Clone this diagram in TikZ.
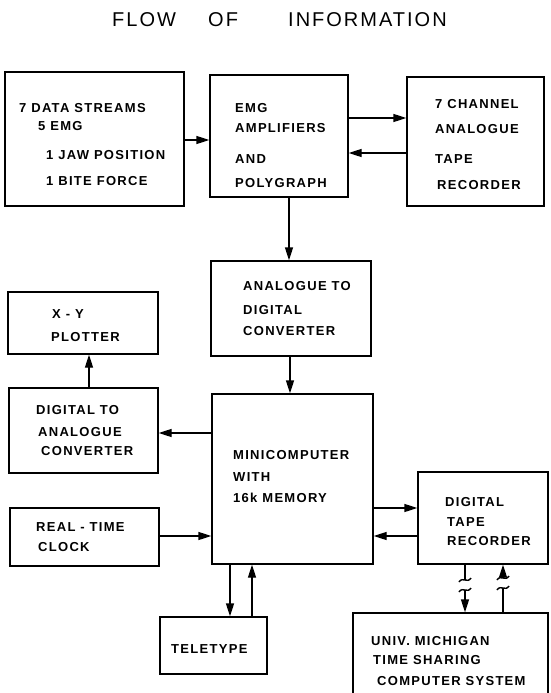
\documentclass[tikz,border=0pt]{standalone}
\usepackage{fontspec}
\setmainfont{Liberation Sans}
\newfontfamily\lblfont{Liberation Sans}[LetterSpace=10,WordSpace=2]
\newfontfamily\ttlfont{Liberation Sans}[LetterSpace=10]
\usetikzlibrary{arrows.meta,calc}
\begin{document}
\begin{tikzpicture}[x=1pt,y=-1pt,
  box/.style={draw,line width=1.3pt,inner sep=0pt},
  lbl/.style={anchor=base west,inner sep=0pt,font=\lblfont\bfseries\fontsize{13}{15}\selectfont},
  ttl/.style={anchor=base west,inner sep=0pt,font=\ttlfont\fontsize{20}{22}\selectfont},
  arr/.style={line width=1.3pt,-{Triangle[length=13pt,width=8pt]}},
  ln/.style={line width=1.3pt},
  brk/.pic={\draw[line width=1.4pt] (-6,2) .. controls (-2,-4) and (2,4) .. (6,-2);}]
\useasboundingbox (0,0) rectangle (551,693);
\clip (0,0) rectangle (551,693);
% title
\node[ttl] (tflow) at (112,27) {FLOW};
\node[ttl] (tof) at (208,27) {OF};
\node[ttl] (tinfo) at (288,27) {INFORMATION};
% boxes
\node[box,minimum width=179pt,minimum height=134pt] (b1) at (94.5,139) {};
\node[box,minimum width=138pt,minimum height=122pt] (b2) at (279,136) {};
\node[box,minimum width=137pt,minimum height=129pt] (b3) at (475.5,141.5) {};
\node[box,minimum width=160pt,minimum height=95pt] (adc) at (291,308.5) {};
\node[box,minimum width=150pt,minimum height=62pt] (xy) at (83,323) {};
\node[box,minimum width=149pt,minimum height=85pt] (dac) at (83.5,430.5) {};
\node[box,minimum width=161pt,minimum height=170pt] (mini) at (292.5,479) {};
\node[box,minimum width=149pt,minimum height=58pt] (clk) at (84.5,537) {};
\node[box,minimum width=130pt,minimum height=92pt] (dtr) at (483,518) {};
\node[box,minimum width=107pt,minimum height=57pt] (tty) at (213.5,645.5) {};
\node[box,minimum width=195pt,minimum height=97pt] (um) at (450.5,661.5) {};
% texts
\node[lbl] (b1a) at (19,112.5) {7 DATA STREAMS};
\node[lbl] (b1b) at (38,130.5) {5 EMG};
\node[lbl] (b1c) at (46,159.5) {1 JAW POSITION};
\node[lbl] (b1d) at (46,185.5) {1 BITE FORCE};
\node[lbl] (b2a) at (235,112.5) {EMG};
\node[lbl] (b2b) at (235,132.5) {AMPLIFIERS};
\node[lbl] (b2c) at (235,163.5) {AND};
\node[lbl] (b2d) at (235,187.5) {POLYGRAPH};
\node[lbl] (b3a) at (435,108.5) {7 CHANNEL};
\node[lbl] (b3b) at (435,133.5) {ANALOGUE};
\node[lbl] (b3c) at (435,163.5) {TAPE};
\node[lbl] (b3d) at (437,189.5) {RECORDER};
\node[lbl] (adca) at (243,290.5) {ANALOGUE TO};
\node[lbl] (adcb) at (243,314.5) {DIGITAL};
\node[lbl] (adcc) at (243,335.5) {CONVERTER};
\node[lbl] (xya) at (52,318.5) {X - Y};
\node[lbl] (xyb) at (51,341.5) {PLOTTER};
\node[lbl] (daca) at (36,414.5) {DIGITAL TO};
\node[lbl] (dacb) at (38,436.5) {ANALOGUE};
\node[lbl] (dacc) at (41,455.5) {CONVERTER};
\node[lbl] (minia) at (233,459.5) {MINICOMPUTER};
\node[lbl] (minib) at (233,481.5) {WITH};
\node[lbl] (minic) at (233,502.5) {16k MEMORY};
\node[lbl] (clka) at (36,531.5) {REAL - TIME};
\node[lbl] (clkb) at (38,551.5) {CLOCK};
\node[lbl] (dtra) at (445,506.5) {DIGITAL};
\node[lbl] (dtrb) at (447,526.5) {TAPE};
\node[lbl] (dtrc) at (447,545.5) {RECORDER};
\node[lbl] (ttya) at (171,653.5) {TELETYPE};
\node[lbl] (uma) at (371,645.5) {UNIV. MICHIGAN};
\node[lbl] (umb) at (373,664.5) {TIME SHARING};
\node[lbl] (umc) at (377,685.5) {COMPUTER SYSTEM};
% connectors
\draw[arr] (b1.east |- 0,140) -- (b2.west |- 0,140);
\draw[arr] (b2.east |- 0,118) -- (b3.west |- 0,118);
\draw[arr] (b3.west |- 0,153) -- (b2.east |- 0,153);
\draw[arr] (b2.south -| 289,0) -- (adc.north -| 289,0);
\draw[arr] (adc.south -| 290,0) -- (mini.north -| 290,0);
\draw[arr] (dac.north -| 89,0) -- (xy.south -| 89,0);
\draw[arr] (mini.west |- 0,433) -- (dac.east |- 0,433);
\draw[arr] (clk.east |- 0,536) -- (mini.west |- 0,536);
\draw[arr] (mini.east |- 0,508) -- (dtr.west |- 0,508);
\draw[arr] (dtr.west |- 0,536) -- (mini.east |- 0,536);
\draw[arr] (mini.south -| 230,0) -- (tty.north -| 230,0);
\draw[arr] (tty.north -| 252,0) -- (mini.south -| 252,0);
% broken links to the time sharing system
\coordinate (d1) at (465,580);
\coordinate (d2) at (465,590);
\coordinate (u1) at (503,578);
\coordinate (u2) at (503,588);
\draw[ln] (dtr.south -| d1) -- (d1);
\pic at (d1) {brk};
\pic at (d2) {brk};
\draw[arr] (d2) -- (um.north -| d2);
\draw[ln] (um.north -| u2) -- (u2);
\pic at (u2) {brk};
\pic at (u1) {brk};
\draw[arr] (u1) -- (dtr.south -| u1);
\end{tikzpicture}
\end{document}
